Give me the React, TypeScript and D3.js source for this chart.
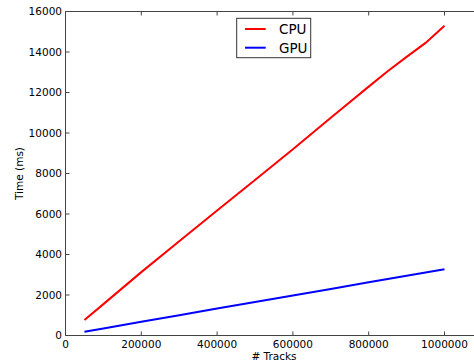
import React from "react";
import * as d3 from "d3";

// values
const tracks = [50000, 100000, 200000, 300000, 400000, 500000, 600000, 700000, 800000, 850000, 900000, 950000, 1000000];
const cpuTimes = [770, 1550, 3130, 4650, 6170, 7680, 9200, 10750, 12290, 13050, 13760, 14450, 15300];
const gpuTimes = [190, 350, 680, 1000, 1330, 1650, 1980, 2300, 2630, 2790, 2950, 3110, 3270];
const xTicks = [0, 200000, 400000, 600000, 800000, 1000000];
const yTicks = [0, 2000, 4000, 6000, 8000, 10000, 12000, 14000, 16000];
const seriesNames = ["CPU", "GPU"];
const seriesColors = ["#ff0000", "#0000ff"];

const width = 474;
const height = 360;
const margin = { top: 11.5, left: 65.5, bottom: 335.5, right: 482.4 };
const font = "'DejaVu Sans', sans-serif";

export default function App() {
  const x = d3.scaleLinear().domain([0, 1100000]).range([margin.left, margin.right]);
  const y = d3.scaleLinear().domain([0, 16000]).range([margin.bottom, margin.top]);

  const line = d3
    .line<number>()
    .x((_, i) => x(tracks[i]))
    .y((d) => y(d));

  const series = [cpuTimes, gpuTimes];
  const axisColor = "#444";
  const tickLen = 4;

  return (
    <svg
      width={width}
      height={height}
      style={{ position: "absolute", left: 0, top: 0, background: "#fff" }}
      fontFamily={font}
    >
      <rect x={0} y={0} width={width} height={height} fill="#fff" />

      {/* data lines */}
      {series.map((s, i) => (
        <path
          key={seriesNames[i]}
          d={line(s) || ""}
          fill="none"
          stroke={seriesColors[i]}
          strokeWidth={2}
        />
      ))}

      {/* spines */}
      <line x1={margin.left} x2={margin.left} y1={margin.top} y2={margin.bottom} stroke={axisColor} />
      <line x1={margin.left} x2={margin.right} y1={margin.top} y2={margin.top} stroke={axisColor} />
      <line x1={margin.left} x2={margin.right} y1={margin.bottom} y2={margin.bottom} stroke={axisColor} />
      <line x1={margin.right} x2={margin.right} y1={margin.top} y2={margin.bottom} stroke={axisColor} />

      {/* x ticks */}
      {xTicks.map((t) => (
        <g key={"x" + t}>
          <line x1={x(t)} x2={x(t)} y1={margin.bottom} y2={margin.bottom - tickLen} stroke={axisColor} />
          <line x1={x(t)} x2={x(t)} y1={margin.top} y2={margin.top + tickLen} stroke={axisColor} />
          <text x={x(t)} y={347.5} fontSize={10.5} textAnchor="middle" fill="#000">
            {t}
          </text>
        </g>
      ))}

      {/* y ticks */}
      {yTicks.map((t) => (
        <g key={"y" + t}>
          <line x1={margin.left} x2={margin.left + tickLen} y1={y(t)} y2={y(t)} stroke={axisColor} />
          <line x1={margin.right} x2={margin.right - tickLen} y1={y(t)} y2={y(t)} stroke={axisColor} />
          <text x={62} y={y(t)} dy="0.36em" fontSize={10.5} textAnchor="end" fill="#000">
            {t}
          </text>
        </g>
      ))}

      {/* axis labels */}
      <text x={(margin.left + margin.right) / 2} y={359.5} fontSize={10.5} textAnchor="middle" fill="#000">
        # Tracks
      </text>
      <text
        transform={`translate(22.5,${(margin.top + margin.bottom) / 2}) rotate(-90)`}
        fontSize={10.5}
        textAnchor="middle"
        fill="#000"
      >
        Time (ms)
      </text>

      {/* legend */}
      <g>
        <rect x={236.7} y={18.3} width={74} height={39.4} fill="#fff" stroke="#333" strokeWidth={1} />
        {seriesNames.map((name, i) => (
          <g key={name} transform={`translate(0,${29 + i * 18.7})`}>
            <line x1={245} x2={265.7} y1={0} y2={0} stroke={seriesColors[i]} strokeWidth={2} />
            <text x={279} y={0} dy="0.36em" fontSize={13.5} fill="#000">
              {name}
            </text>
          </g>
        ))}
      </g>
    </svg>
  );
}
